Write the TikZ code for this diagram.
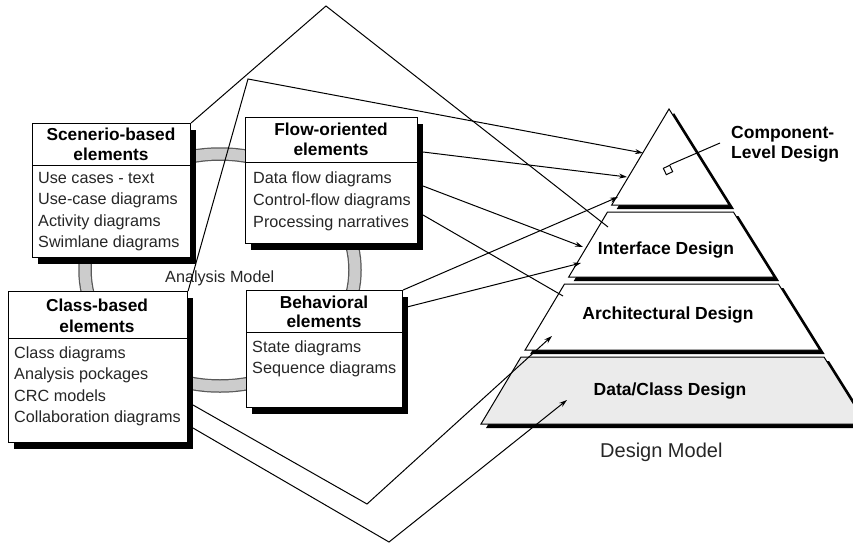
\documentclass[tikz,border=0pt]{standalone}
\usepackage{fontspec}
\setmainfont{Liberation Sans}
\usetikzlibrary{arrows.meta,shadows}

\begin{document}
\begin{tikzpicture}[x=1pt,y=-1pt,
  box/.style={draw, line width=1.1pt, fill=white, rectangle, inner sep=0pt,
    anchor=north west,
    general shadow={fill=black, shadow xshift=5.5pt, shadow yshift=-6pt}},
  head/.style={font=\fontsize{17.3}{20}\selectfont\bfseries, anchor=base, inner sep=0pt},
  item/.style={font=\fontsize{16.2}{19}\selectfont, anchor=base west, inner sep=0pt, text=black!85},
  tier/.style={draw, line width=1pt, fill=white,
    general shadow={fill=black, shadow xshift=5pt, shadow yshift=-4pt}},
  tlabel/.style={font=\fontsize{17.5}{20}\selectfont\bfseries, anchor=base, inner sep=0pt},
  conn/.style={line width=1pt},
  arr/.style={conn, -{Stealth[length=8pt,width=5pt]}}]

\useasboundingbox (0,0) rectangle (853,543);
\clip (0,0) rectangle (853,543);

% ring of the analysis model
\draw[line width=13.5pt, black!65] (220,270) ellipse [x radius=135pt, y radius=116pt];
\draw[line width=11pt, black!20] (220,270) ellipse [x radius=135pt, y radius=116pt];
\node[font=\fontsize{16.2}{19}\selectfont, anchor=base west, inner sep=0pt, text=black!85] (amodel) at (165,282) {Analysis Model};

% scenario-based elements
\node[box, minimum width=158pt, minimum height=134pt] (scen) at (32,123) {};
\draw[line width=1pt] (32,165) -- (190,165);
\node[head] (scen1) at (111,140) {Scenerio-based};
\node[head] (scen2) at (111,160) {elements};
\node[item] (scen3) at (38,183) {Use cases - text};
\node[item] (scen4) at (38,204) {Use-case diagrams};
\node[item] (scen5) at (38,226) {Activity diagrams};
\node[item] (scen6) at (38,247) {Swimlane diagrams};

% flow-oriented elements
\node[box, minimum width=172pt, minimum height=126pt] (flw) at (245,117) {};
\draw[line width=1pt] (245,162) -- (417,162);
\node[head] (flw1) at (331,135) {Flow-oriented};
\node[head] (flw2) at (331,155) {elements};
\node[item] (flw3) at (253,183) {Data flow diagrams};
\node[item] (flw4) at (253,205) {Control-flow diagrams};
\node[item] (flw5) at (253,227) {Processing narratives};

% class-based elements
\node[box, minimum width=179pt, minimum height=151pt] (cls) at (8,291) {};
\draw[line width=1pt] (8,338) -- (187,338);
\node[head] (cls1) at (97,311) {Class-based};
\node[head] (cls2) at (97,332) {elements};
\node[item] (cls3) at (14,358) {Class diagrams};
\node[item] (cls4) at (14,379) {Analysis pockages};
\node[item] (cls5) at (14,401) {CRC models};
\node[item] (cls6) at (14,422) {Collaboration diagrams};

% behavioral elements
\node[box, minimum width=156pt, minimum height=117pt] (beh) at (246,290) {};
\draw[line width=1pt] (246,332) -- (402,332);
\node[head] (beh1) at (324,308) {Behavioral};
\node[head] (beh2) at (324,327) {elements};
\node[item] (beh3) at (252,352) {State diagrams};
\node[item] (beh4) at (252,373) {Sequence diagrams};

% design pyramid
\draw[tier, fill=black!8] (521,357) -- (824,357) -- (866,424) -- (481,424) -- cycle;
\draw[tier] (564.5,284) -- (778.4,284) -- (819.6,350) -- (525.1,350) -- cycle;
\draw[tier] (607.5,212) -- (733.4,212) -- (774,277) -- (568.7,277) -- cycle;
\draw[tier] (669,109) -- (729,205) -- (611.7,205) -- cycle;
\node[tlabel] (dcd) at (670,395) {Data/Class Design};
\node[tlabel] (ard) at (668,319) {Architectural Design};
\node[tlabel] (ifd) at (666,254) {Interface Design};
\node[tlabel, anchor=base west] (cld1) at (731,138) {Component-};
\node[tlabel, anchor=base west] (cld2) at (731,158) {Level Design};
\node[draw, line width=1pt, fill=white, minimum size=7pt, inner sep=0pt, rotate=25] (sq) at (668,170) {};
\coordinate (lead) at (720,143);
\draw[conn] (sq.north east) -- (lead);
\node[font=\fontsize{20}{23}\selectfont, anchor=base west, inner sep=0pt, text=black!85] (dmodel) at (600,457) {Design Model};

% connector points
\coordinate (apexA) at (326,6);
\coordinate (endA) at (608,227);
\coordinate (apexB) at (248,79);
\coordinate (tipB) at (643,153);
\coordinate (f1) at (423,152);
\coordinate (f2) at (423,186);
\coordinate (f3) at (423,215);
\coordinate (tipF1) at (627,177);
\coordinate (tipF2) at (583,247);
\coordinate (endF3) at (563,296);
\coordinate (b2) at (407,307);
\coordinate (tipB1) at (618,197);
\coordinate (tipB2) at (581,263);
\coordinate (c1) at (193,405);
\coordinate (c2) at (193,428);
\coordinate (v1) at (367,504);
\coordinate (v2) at (389,542);
\coordinate (tipC1) at (552,336);
\coordinate (tipC2) at (567,400);

% connectors
\draw[conn] (scen.north east) -- (apexA) -- (endA);
\draw[arr] (cls.north east) -- (apexB) -- (tipB);
\draw[arr] (f1) -- (tipF1);
\draw[arr] (f2) -- (tipF2);
\draw[conn] (f3) -- (endF3);
\draw[arr] (beh.north east) -- (tipB1);
\draw[arr] (b2) -- (tipB2);
\draw[arr] (c1) -- (v1) -- (tipC1);
\draw[arr] (c2) -- (v2) -- (tipC2);
\end{tikzpicture}
\end{document}
